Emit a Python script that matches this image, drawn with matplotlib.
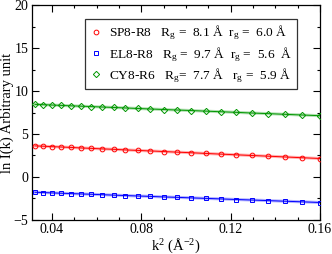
import matplotlib
matplotlib.use("Agg")
import matplotlib.pyplot as plt
from matplotlib.ticker import MultipleLocator

plt.rcParams['font.family'] = ['Liberation Serif', 'DejaVu Serif']
plt.rcParams['mathtext.fontset'] = 'custom'
plt.rcParams['mathtext.rm'] = 'Liberation Serif'
plt.rcParams['mathtext.it'] = 'Liberation Serif:italic'

# k^2 values (A^-2)
k2 = [0.0324, 0.0361, 0.0400, 0.0441, 0.0484, 0.0529, 0.0576, 0.0625, 0.0676, 0.0729,
      0.0784, 0.0841, 0.0900, 0.0961, 0.1024, 0.1089, 0.1156, 0.1225, 0.1296, 0.1369,
      0.1444, 0.1521, 0.1600]

# ln I(k)
sp8 = [3.62, 3.58, 3.53, 3.49, 3.44, 3.38, 3.33, 3.27, 3.22, 3.15, 3.09, 3.03, 2.96,
       2.89, 2.82, 2.74, 2.66, 2.58, 2.50, 2.42, 2.33, 2.24, 2.15]
el8 = [-1.78, -1.81, -1.85, -1.89, -1.93, -1.97, -2.01, -2.06, -2.11, -2.16, -2.21, -2.26,
       -2.32, -2.37, -2.43, -2.49, -2.55, -2.62, -2.68, -2.75, -2.82, -2.89, -2.97]
cy8 = [8.45, 8.41, 8.37, 8.33, 8.28, 8.24, 8.19, 8.14, 8.09, 8.03, 7.97, 7.91, 7.85,
       7.79, 7.73, 7.66, 7.59, 7.52, 7.44, 7.37, 7.29, 7.21, 7.13]

labels = ["SP8-R8   R$_\\mathregular{g}$ =  8.1 Å  r$_\\mathregular{g}$ =  6.0 Å",
          "EL8-R8   R$_\\mathregular{g}$ =  9.7 Å  r$_\\mathregular{g}$ =  5.6  Å",
          "CY8-R6   R$_\\mathregular{g}$=  7.7 Å   r$_\\mathregular{g}$ =  5.9 Å"]

fig = plt.figure(figsize=(3.32, 2.54), dpi=100)
ax = fig.add_axes([0.096, 0.134, 0.868, 0.846])

series = [(sp8, 'red', 'o'), (el8, 'blue', 's'), (cy8, '#009600', 'D')]
handles = []
for (y, c, m), lab in zip(series, labels):
    ax.plot(k2, y, color=c, lw=2.2, alpha=0.3, zorder=1)
    ax.plot(k2, y, color=c, lw=0.7, zorder=2)
    h, = ax.plot(k2, y, ls='none', marker=m, ms=3.4 if m != 'D' else 3.2,
                 mfc='none', mec=c, mew=0.7, zorder=3, label=lab)
    handles.append(h)

ax.set_xlim(0.031, 0.16)
ax.set_ylim(-5, 20)
ax.xaxis.set_major_locator(MultipleLocator(0.04))
ax.xaxis.set_minor_locator(MultipleLocator(0.01))
ax.yaxis.set_major_locator(MultipleLocator(5))
ax.yaxis.set_minor_locator(MultipleLocator(2.5))
ax.tick_params(which='both', direction='in', top=True, right=True, labelsize=10)
ax.tick_params(which='major', length=5, width=0.8, pad=2.5)
ax.tick_params(which='minor', length=2.5, width=0.8)
ax.set_xticks([0.04, 0.08, 0.12, 0.16])
ax.set_xticklabels(['0.04', '0.08', '0.12', '0.16'])
for s in ax.spines.values():
    s.set_linewidth(0.9)

ax.set_xlabel("k$^\\mathregular{2}$ (Å$^\\mathregular{-2}$)", fontsize=10.5, labelpad=0)
ax.set_ylabel("ln I(k) Arbitrary unit", fontsize=10.5, labelpad=0)

leg = ax.legend(handles=handles, loc='upper right', bbox_to_anchor=(0.92, 0.935),
                fontsize=9.6, frameon=True, fancybox=False, edgecolor='black',
                handletextpad=0.5, handlelength=1.0, borderpad=0.35, labelspacing=0.18,
                borderaxespad=0)
leg.get_frame().set_linewidth(0.9)

plt.savefig("out.png", dpi=100)
